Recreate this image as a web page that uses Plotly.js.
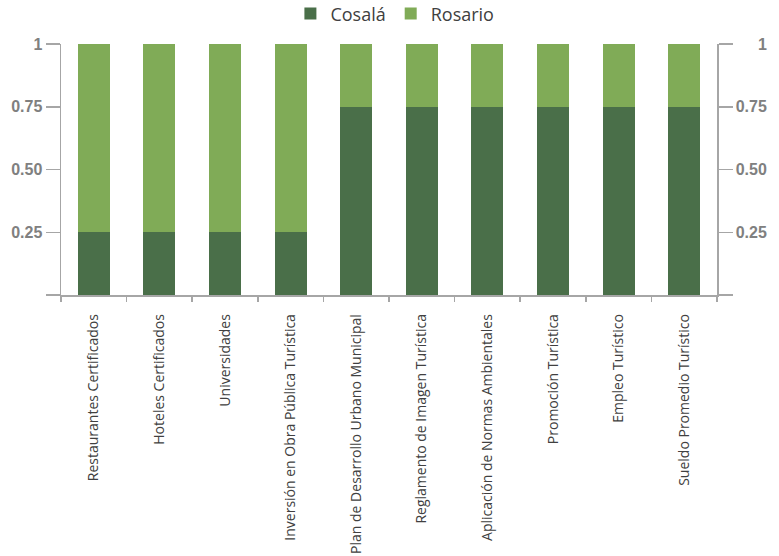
<!DOCTYPE html>
<html>
<head>
<meta charset="utf-8">
<script src="https://cdn.plot.ly/plotly-3.0.1.min.js"></script>
<style>html,body{margin:0;padding:0;background:#fff;}#chart{width:779px;height:556px;}</style>
</head>
<body>
<div id="chart"></div>
<script>
var categories = [
  "Restaurantes Certificados",
  "Hoteles Certificados",
  "Universidades",
  "Inversión en Obra Pública Turística",
  "Plan de Desarrollo Urbano Municipal",
  "Reglamento de Imagen Turística",
  "Aplicación de Normas Ambientales",
  "Promoción Turística",
  "Empleo Turístico",
  "Sueldo Promedio Turístico"
];
var cosala = [0.25, 0.25, 0.25, 0.25, 0.75, 0.75, 0.75, 0.75, 0.75, 0.75];
var rosario = [0.75, 0.75, 0.75, 0.75, 0.25, 0.25, 0.25, 0.25, 0.25, 0.25];
var tickVals = [0, 0.25, 0.5, 0.75, 1];
var tickTextLeft = ["", "0.25", "0.50", "0.75", "1"];
var tickTextRight = ["", "0.25", "0.50", "0.75", "\u00a0\u00a0\u00a0\u00a0\u00a01"];

var axisGray = "#a6a6a6";
var labelGray = "#808080";

var traces = [
  {type: "bar", name: "Cosalá", x: categories, y: cosala, marker: {color: "#4a6f49"}, hoverinfo: "x+y+name"},
  {type: "bar", name: "Rosario", x: categories, y: rosario, marker: {color: "#80ab57"}, hoverinfo: "x+y+name"},
  {type: "scatter", mode: "markers", x: categories, y: cosala, yaxis: "y2", showlegend: false,
   marker: {opacity: 0, size: 1}, hoverinfo: "skip"}
];

var yCommon = {
  range: [0, 1],
  tickmode: "array",
  tickvals: tickVals,
  ticks: "outside",
  ticklen: 14,
  tickwidth: 1.5,
  tickcolor: axisGray,
  showline: true,
  linecolor: axisGray,
  linewidth: 1.5,
  showgrid: false,
  zeroline: false,
  fixedrange: true,
  tickfont: {family: "Liberation Sans, Arial, sans-serif", size: 16, color: labelGray, weight: "bold"}
};

var layout = {
  width: 779,
  height: 556,
  margin: {l: 61, r: 62, t: 44, b: 261},
  paper_bgcolor: "#ffffff",
  plot_bgcolor: "#ffffff",
  barmode: "stack",
  bargap: 0.51,
  showlegend: true,
  legend: {
    orientation: "h",
    x: 0.509, xanchor: "center",
    y: 0.975, yanchor: "middle",
    yref: "container",
    font: {family: "Open Sans, sans-serif", size: 18, color: "#404040"},
    itemwidth: 30,
    traceorder: "normal"
  },
  xaxis: {
    type: "category",
    range: [-0.5, 9.5],
    showline: true,
    linecolor: axisGray,
    linewidth: 1.5,
    ticks: "outside",
    tickson: "boundaries",
    ticklen: 5,
    tickwidth: 1.5,
    tickcolor: axisGray,
    tickangle: -90,
    ticklabelstandoff: 12,
    showgrid: false,
    fixedrange: true,
    tickfont: {family: "Open Sans, sans-serif", size: 14, color: "#404040"}
  },
  yaxis: Object.assign({}, yCommon, {side: "left", ticktext: tickTextLeft}),
  yaxis2: Object.assign({}, yCommon, {side: "right", overlaying: "y", anchor: "x", ticktext: tickTextRight})
};

Plotly.newPlot("chart", traces, layout, {displayModeBar: false, staticPlot: true});
</script>
</body>
</html>
